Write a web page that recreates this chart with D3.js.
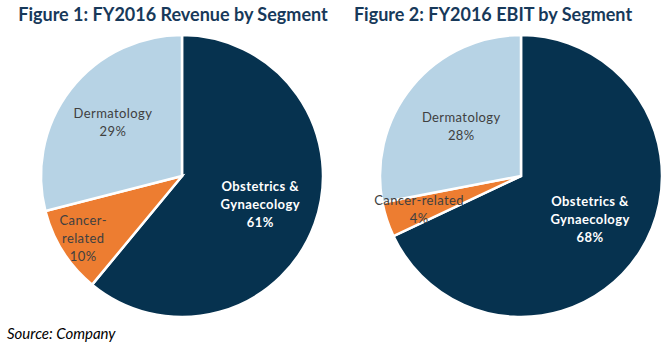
<!DOCTYPE html>
<html>
<head>
<meta charset="utf-8">
<script src="https://cdn.jsdelivr.net/npm/d3@7"></script>
<style>
  html, body { margin: 0; padding: 0; background: #fff; }
  svg { display: block; font-family: Lato, "Open Sans", sans-serif; }
</style>
</head>
<body>
<svg id="chart" width="670" height="351"></svg>
<script>
// ---- data ----
const segments = ["Obstetrics & Gynaecology", "Cancer-related", "Dermatology"];
const revenueShare = [61, 10, 29];
const ebitShare = [68, 4, 28];
const titles = ["Figure 1: FY2016 Revenue by Segment", "Figure 2: FY2016 EBIT by Segment"];
const revenueLabels = [["Obstetrics &", "Gynaecology", "61%"], ["Cancer-", "related", "10%"], ["Dermatology", "29%"]];
const ebitLabels = [["Obstetrics &", "Gynaecology", "68%"], ["Cancer-related", "4%"], ["Dermatology", "28%"]];
const sourceText = "Source: Company";

// ---- layout / style ----
const colors = ["#06324F", "#ED7D31", "#B7D3E5"];
const textColors = ["#FFFFFF", "#404040", "#404040"];
const textWeights = ["bold", "normal", "normal"];
const charts = [
  { title: titles[0], values: revenueShare, labels: revenueLabels, cx: 182, cy: 176, r: 141, titleX: 173, labelR: [0.59, 0.83, 0.62] },
  { title: titles[1], values: ebitShare, labels: ebitLabels, cx: 521, cy: 176, r: 141, titleX: 493, labelR: [0.58, 0.76, 0.55] }
];

const svg = d3.select("#chart");
const pie = d3.pie().sort(null).value(d => d);

charts.forEach(c => {
  svg.append("text")
    .attr("x", c.titleX).attr("y", 21)
    .attr("text-anchor", "middle")
    .attr("font-size", 18).attr("font-weight", "bold")
    .attr("fill", "#17395A")
    .text(c.title);

  const g = svg.append("g").attr("transform", `translate(${c.cx},${c.cy})`);
  const arcs = pie(c.values);
  const arc = d3.arc().innerRadius(0).outerRadius(c.r);

  g.selectAll("path").data(arcs).join("path")
    .attr("d", arc)
    .attr("fill", (d, i) => colors[i])
    .attr("stroke", "#fff").attr("stroke-width", 2.5).attr("stroke-linejoin", "miter");

  arcs.forEach((d, i) => {
    const lr = c.r * c.labelR[i];
    const la = d3.arc().innerRadius(lr).outerRadius(lr);
    const [x, y] = la.centroid(d);
    const lines = c.labels[i];
    const lh = 18;
    const t = g.append("text")
      .attr("text-anchor", "middle")
      .attr("font-size", 13)
      .attr("font-weight", textWeights[i])
      .attr("fill", textColors[i])
      .attr("letter-spacing", 0.4);
    lines.forEach((ln, k) => {
      t.append("tspan")
        .attr("x", x)
        .attr("y", y + (k - (lines.length - 1) / 2) * lh + 4.5)
        .text(ln);
    });
  });
});

svg.append("text")
  .attr("x", 7).attr("y", 339)
  .attr("font-size", 15).attr("font-style", "italic")
  .attr("fill", "#000")
  .text(sourceText);
</script>
</body>
</html>
